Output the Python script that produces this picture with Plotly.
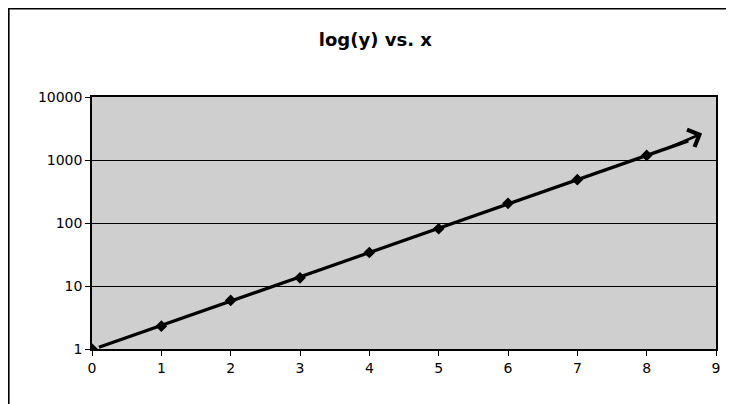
import numpy as np
import plotly.graph_objects as go

x_vals = [0, 1, 2, 3, 4, 5, 6, 7, 8]
y_vals = [1.0, 2.3, 5.9, 13.5, 34, 81, 205, 488, 1180]
y_tickvals = [1, 10, 100, 1000, 10000]
y_ticktext = ["1", "10", "100", "1000", "10000"]
x_tickvals = [0, 1, 2, 3, 4, 5, 6, 7, 8, 9]
title_text = "log(y) vs. x"

# exponential trend line fitted in log space
b, a = np.polyfit(np.array(x_vals, float), np.log10(y_vals), 1)
xt = np.linspace(0.1, 8.6, 60)
yt = 10 ** (a + b * xt)
x_tail = 8.35
x_tip = 8.8
y_tip = a + b * x_tip + 0.04

fig = go.Figure()
fig.add_trace(go.Scatter(x=xt, y=yt, mode="lines",
                         line=dict(color="black", width=3.2), hoverinfo="skip"))
fig.add_trace(go.Scatter(x=x_vals, y=y_vals, mode="markers",
                         marker=dict(symbol="diamond", size=9, color="black")))

# hand-drawn arrow head at the end of the trend line
fig.add_annotation(x=x_tip, y=y_tip, xref="x", yref="y",
                   ax=x_tail, ay=float(a + b * x_tail),
                   axref="x", ayref="y", showarrow=True, arrowhead=4, arrowsize=1.4,
                   arrowwidth=2.6, arrowcolor="black", text="")

W, H = 726, 396  # page has an 8px body margin
L, R, T, B = 84, 18, 89, 55
pw, ph = W - L - R, H - T - B
fig.update_layout(
    width=W, height=H,
    margin=dict(l=L, r=R, t=T, b=B),
    paper_bgcolor="white", plot_bgcolor="#cfcfcf",
    showlegend=False,
    font=dict(family="DejaVu Sans", size=14, color="black"),
    title=dict(text="<b>" + title_text + "</b>", x=0.506, xref="container", xanchor="center",
               y=0.919, yref="container", yanchor="middle",
               font=dict(family="DejaVu Sans", size=18, color="black")),
    shapes=[
        dict(type="line", xref="paper", yref="paper", x0=-L / pw + 0.001, x1=-L / pw + 0.001,
             y0=-B / ph, y1=1 + T / ph, line=dict(color="black", width=2)),
        dict(type="line", xref="paper", yref="paper", x0=-L / pw, x1=1 + R / pw,
             y0=1 + T / ph - 0.002, y1=1 + T / ph - 0.002, line=dict(color="black", width=2)),
    ],
)
fig.update_xaxes(range=[0, 9], tickvals=x_tickvals, showgrid=False, zeroline=False,
                 showline=True, linecolor="black", linewidth=1.5, mirror=True,
                 ticks="outside", ticklen=5, tickcolor="black", tickfont=dict(size=14))
fig.update_yaxes(type="log", range=[0, 4], tickvals=y_tickvals, ticktext=y_ticktext,
                 showgrid=True, gridcolor="black", gridwidth=1.2, zeroline=False,
                 showline=True, linecolor="black", linewidth=1.5, mirror=True,
                 ticks="outside", ticklen=5, tickcolor="black", tickfont=dict(size=14))

fig.write_html("out.html")
